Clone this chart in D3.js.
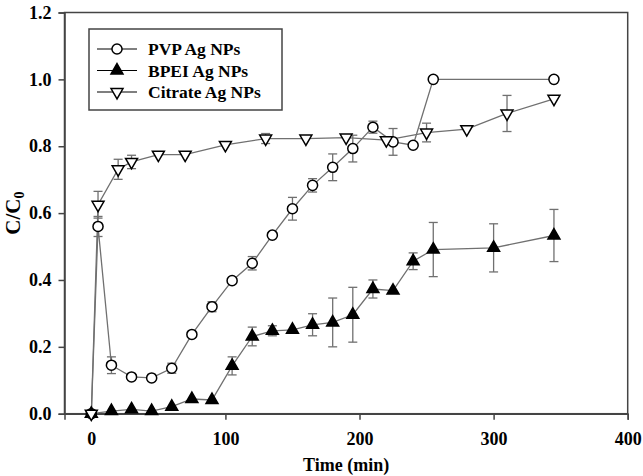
<!DOCTYPE html>
<html>
<head>
<meta charset="utf-8">
<script src="https://cdn.jsdelivr.net/npm/d3@7"></script>
<style>
  body { margin: 0; background: #fff; }
  text { font-family: "Liberation Serif", "Times New Roman", serif; font-weight: bold; }
</style>
</head>
<body>
<div id="chart"></div>
<script>
// data
var pvpTime = [0, 5, 15, 30, 45, 60, 75, 90, 105, 120, 135, 150, 165, 180, 195, 210, 225, 240, 255, 345];
var pvpValue = [0, 0.56, 0.145, 0.11, 0.107, 0.136, 0.237, 0.32, 0.398, 0.45, 0.534, 0.613, 0.683, 0.737, 0.793, 0.857, 0.813, 0.803, 1.0, 1.0];
var pvpErr = [0, 0.03, 0.025, 0, 0, 0.015, 0, 0.015, 0, 0.02, 0, 0.034, 0.02, 0.04, 0.04, 0.018, 0.04, 0, 0, 0];

var bpeiTime = [0, 15, 30, 45, 60, 75, 90, 105, 120, 135, 150, 165, 180, 195, 210, 225, 240, 255, 300, 345];
var bpeiValue = [0, 0.008, 0.013, 0.008, 0.021, 0.044, 0.041, 0.143, 0.231, 0.248, 0.251, 0.266, 0.273, 0.296, 0.373, 0.368, 0.456, 0.491, 0.496, 0.533];
var bpeiErr = [0, 0, 0, 0, 0, 0, 0, 0.027, 0.028, 0.015, 0, 0.033, 0.073, 0.082, 0.027, 0, 0.025, 0.081, 0.072, 0.078];

var citTime = [0, 5, 20, 30, 50, 70, 100, 130, 160, 190, 220, 250, 280, 310, 345];
var citValue = [0, 0.625, 0.731, 0.753, 0.775, 0.775, 0.804, 0.823, 0.823, 0.826, 0.818, 0.841, 0.851, 0.898, 0.942];
var citErr = [0, 0.04, 0.03, 0.02, 0, 0, 0, 0.015, 0, 0, 0, 0.028, 0, 0.054, 0];

var xTicks = [0, 100, 200, 300, 400];
var yTicks = [0.0, 0.2, 0.4, 0.6, 0.8, 1.0, 1.2];

var svgWidth = 643;
var svgHeight = 476;

var margin = { top: 12.5, right: 15.3, bottom: 62.3, left: 64.5 };
var width = svgWidth - margin.left - margin.right;
var height = svgHeight - margin.top - margin.bottom;

var svg = d3.select("#chart")
  .append("svg")
  .attr("width", svgWidth)
  .attr("height", svgHeight);

var chartGroup = svg.append("g")
  .attr("transform", "translate(" + margin.left + "," + margin.top + ")");

var xScale = d3.scaleLinear().domain([-20, 400]).range([0, width]);
var yScale = d3.scaleLinear().domain([0, 1.2]).range([height, 0]);

// frame
chartGroup.append("rect")
  .attr("width", width)
  .attr("height", height)
  .attr("fill", "none")
  .attr("stroke", "#444")
  .attr("stroke-width", 1.5);

// axes
var bottomAxis = d3.axisBottom(xScale).tickValues(xTicks).tickSize(6).tickPadding(8).tickFormat(d3.format("d"));
var leftAxis = d3.axisLeft(yScale).tickValues(yTicks).tickSize(6).tickPadding(7).tickFormat(d3.format(".1f"));

var xAxis = chartGroup.append("g")
  .attr("transform", `translate(0, ${height})`)
  .call(bottomAxis);

var yAxis = chartGroup.append("g")
  .call(leftAxis);

[xAxis, yAxis].forEach(function (ax) {
  ax.select(".domain").attr("stroke", "#444").attr("stroke-width", 1.5);
  ax.selectAll(".tick line").attr("stroke", "#444").attr("stroke-width", 1.5);
  ax.selectAll(".tick text")
    .attr("fill", "#000")
    .style("font-size", "18px")
    .style("font-family", "'Liberation Serif', 'Times New Roman', serif")
    .style("font-weight", "bold");
});
xAxis.selectAll(".tick text").attr("dy", "0.95em");

// axis titles, pushed close to the page edges as in the reference
svg.append("text")
  .attr("x", margin.left + width / 2)
  .attr("y", 471)
  .attr("text-anchor", "middle")
  .style("font-size", "18px")
  .text("Time (min)");

var yTitle = svg.append("text")
  .attr("transform", "translate(20," + (margin.top + height / 2) + ") rotate(-90)")
  .attr("text-anchor", "middle")
  .style("font-size", "21px");
yTitle.append("tspan").text("C/C");
yTitle.append("tspan").attr("dy", 4).style("font-size", "14px").text("0");

var series = [
  { name: "PVP Ag NPs", time: pvpTime, value: pvpValue, err: pvpErr, shape: "circle" },
  { name: "BPEI Ag NPs", time: bpeiTime, value: bpeiValue, err: bpeiErr, shape: "up" },
  { name: "Citrate Ag NPs", time: citTime, value: citValue, err: citErr, shape: "down" }
];

function symbolPath(shape) {
  if (shape === "circle") return d3.symbol().type(d3.symbolCircle).size(80)();
  return d3.symbol().type(d3.symbolTriangle).size(62)();
}

function drawMarker(g, shape, x, y) {
  g.append("path")
    .attr("d", symbolPath(shape))
    .attr("transform", `translate(${x},${y})` + (shape === "down" ? " rotate(180)" : ""))
    .attr("fill", shape === "up" ? "#000" : "#fff")
    .attr("stroke", "#000")
    .attr("stroke-width", 1.5);
}

var line = d3.line()
  .x(d => xScale(d.t))
  .y(d => yScale(d.v));

// lines and error bars first, markers on top
series.forEach(function (s) {
  var pts = s.time.map((t, i) => ({ t: t, v: s.value[i], e: s.err[i] }));
  s.pts = pts;

  chartGroup.append("path")
    .datum(pts)
    .attr("d", line)
    .attr("fill", "none")
    .attr("stroke", "#707070")
    .attr("stroke-width", 1.3);

  var bars = chartGroup.append("g")
    .attr("stroke", "#707070")
    .attr("stroke-width", 1.3);
  pts.filter(d => d.e > 0).forEach(function (d) {
    var x = xScale(d.t);
    var y1 = yScale(d.v + d.e), y2 = yScale(d.v - d.e);
    bars.append("line").attr("x1", x).attr("x2", x).attr("y1", y1).attr("y2", y2);
    bars.append("line").attr("x1", x - 4.5).attr("x2", x + 4.5).attr("y1", y1).attr("y2", y1);
    bars.append("line").attr("x1", x - 4.5).attr("x2", x + 4.5).attr("y1", y2).attr("y2", y2);
  });
});

series.forEach(function (s) {
  var g = chartGroup.append("g");
  s.pts.forEach(function (d) {
    drawMarker(g, s.shape, xScale(d.t), yScale(d.v));
  });
});

// legend
var legend = svg.append("g").attr("transform", "translate(89,29)");
legend.append("rect")
  .attr("width", 193)
  .attr("height", 81)
  .attr("fill", "#fff")
  .attr("stroke", "#444")
  .attr("stroke-width", 1.5);

series.forEach(function (s, i) {
  var y = 20 + i * 21.5;
  legend.append("line")
    .attr("x1", 8).attr("x2", 48)
    .attr("y1", y).attr("y2", y)
    .attr("stroke", "#000")
    .attr("stroke-width", 1.2);
  drawMarker(legend, s.shape, 28, y);
  legend.append("text")
    .attr("x", 59)
    .attr("y", y + 6)
    .style("font-size", "17.5px")
    .text(s.name);
});
</script>
</body>
</html>
